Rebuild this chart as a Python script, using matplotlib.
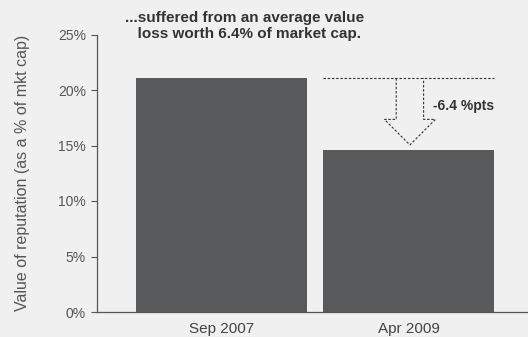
import numpy as np
import matplotlib.pyplot as plt
from matplotlib.patches import Polygon

plt.rcParams['font.family'] = ['Liberation Sans', 'DejaVu Sans']

periods = ['Sep 2007', 'Apr 2009']
reputation_value = [21.05, 14.6]
yticks = [0, 5, 10, 15, 20, 25]
title_text = '...suffered from an average value\n  loss worth 6.4% of market cap.'
change_label = '-6.4 %pts'

bg = '#f0f0f0'
bar_color = '#58595b'
text_gray = '#555555'

fig = plt.figure(figsize=(5.28, 3.37), dpi=100, facecolor=bg)
ax = fig.add_axes([97/528, 1 - 312/337, 1 - 97/528, (312 - 34.5)/337])
ax.set_facecolor(bg)

x = np.arange(len(periods))
ax.bar(x, reputation_value, width=0.912, color=bar_color, zorder=2)

ax.set_xlim(-0.664, 1.635)
ax.set_ylim(0, 25)
ax.set_yticks(yticks)
ax.set_yticklabels([f'{t}%' for t in yticks], fontsize=10, color=text_gray)
ax.set_xticks(x)
ax.set_xticklabels(periods, fontsize=11, color='#444444')
ax.tick_params(axis='x', length=0, pad=7)
ax.tick_params(axis='y', length=4, width=0.8, color=text_gray, pad=4)

for s in ['top', 'right']:
  ax.spines[s].set_visible(False)
for s in ['left', 'bottom']:
  ax.spines[s].set_color(text_gray)
  ax.spines[s].set_linewidth(0.9)

ax.set_ylabel('Value of reputation (as a % of mkt cap)', fontsize=11.5, color=text_gray, labelpad=20)

# dashed reference line and hollow down arrow over the second bar
dash = (0, (2.2, 1.6))
top = reputation_value[0]
low = reputation_value[1]
ax.plot([x[1] - 0.456, x[1] + 0.456], [top, top], color='#333333', lw=0.8, linestyle=dash, zorder=3)
cx = x[1] + 0.005
sw, hw = 0.073, 0.136
head_top = top - 3.7
tip = low + 0.45
arrow = Polygon([[cx - sw, top], [cx - sw, head_top], [cx - hw, head_top], [cx, tip],
                 [cx + hw, head_top], [cx + sw, head_top], [cx + sw, top]],
                closed=False, fill=False, edgecolor='#333333', lw=0.8, linestyle=dash, zorder=3)
ax.add_patch(arrow)
ax.text(cx + sw + 0.05, top - 2.45, change_label, fontsize=10, fontweight='bold',
        color='#333333', va='center', ha='left')

fig.text(245/528, 1 - 26/337, title_text, fontsize=11, fontweight='bold', color='#333333',
         ha='center', va='center', linespacing=1.25)

fig.savefig('out.png', dpi=100, facecolor=bg)
